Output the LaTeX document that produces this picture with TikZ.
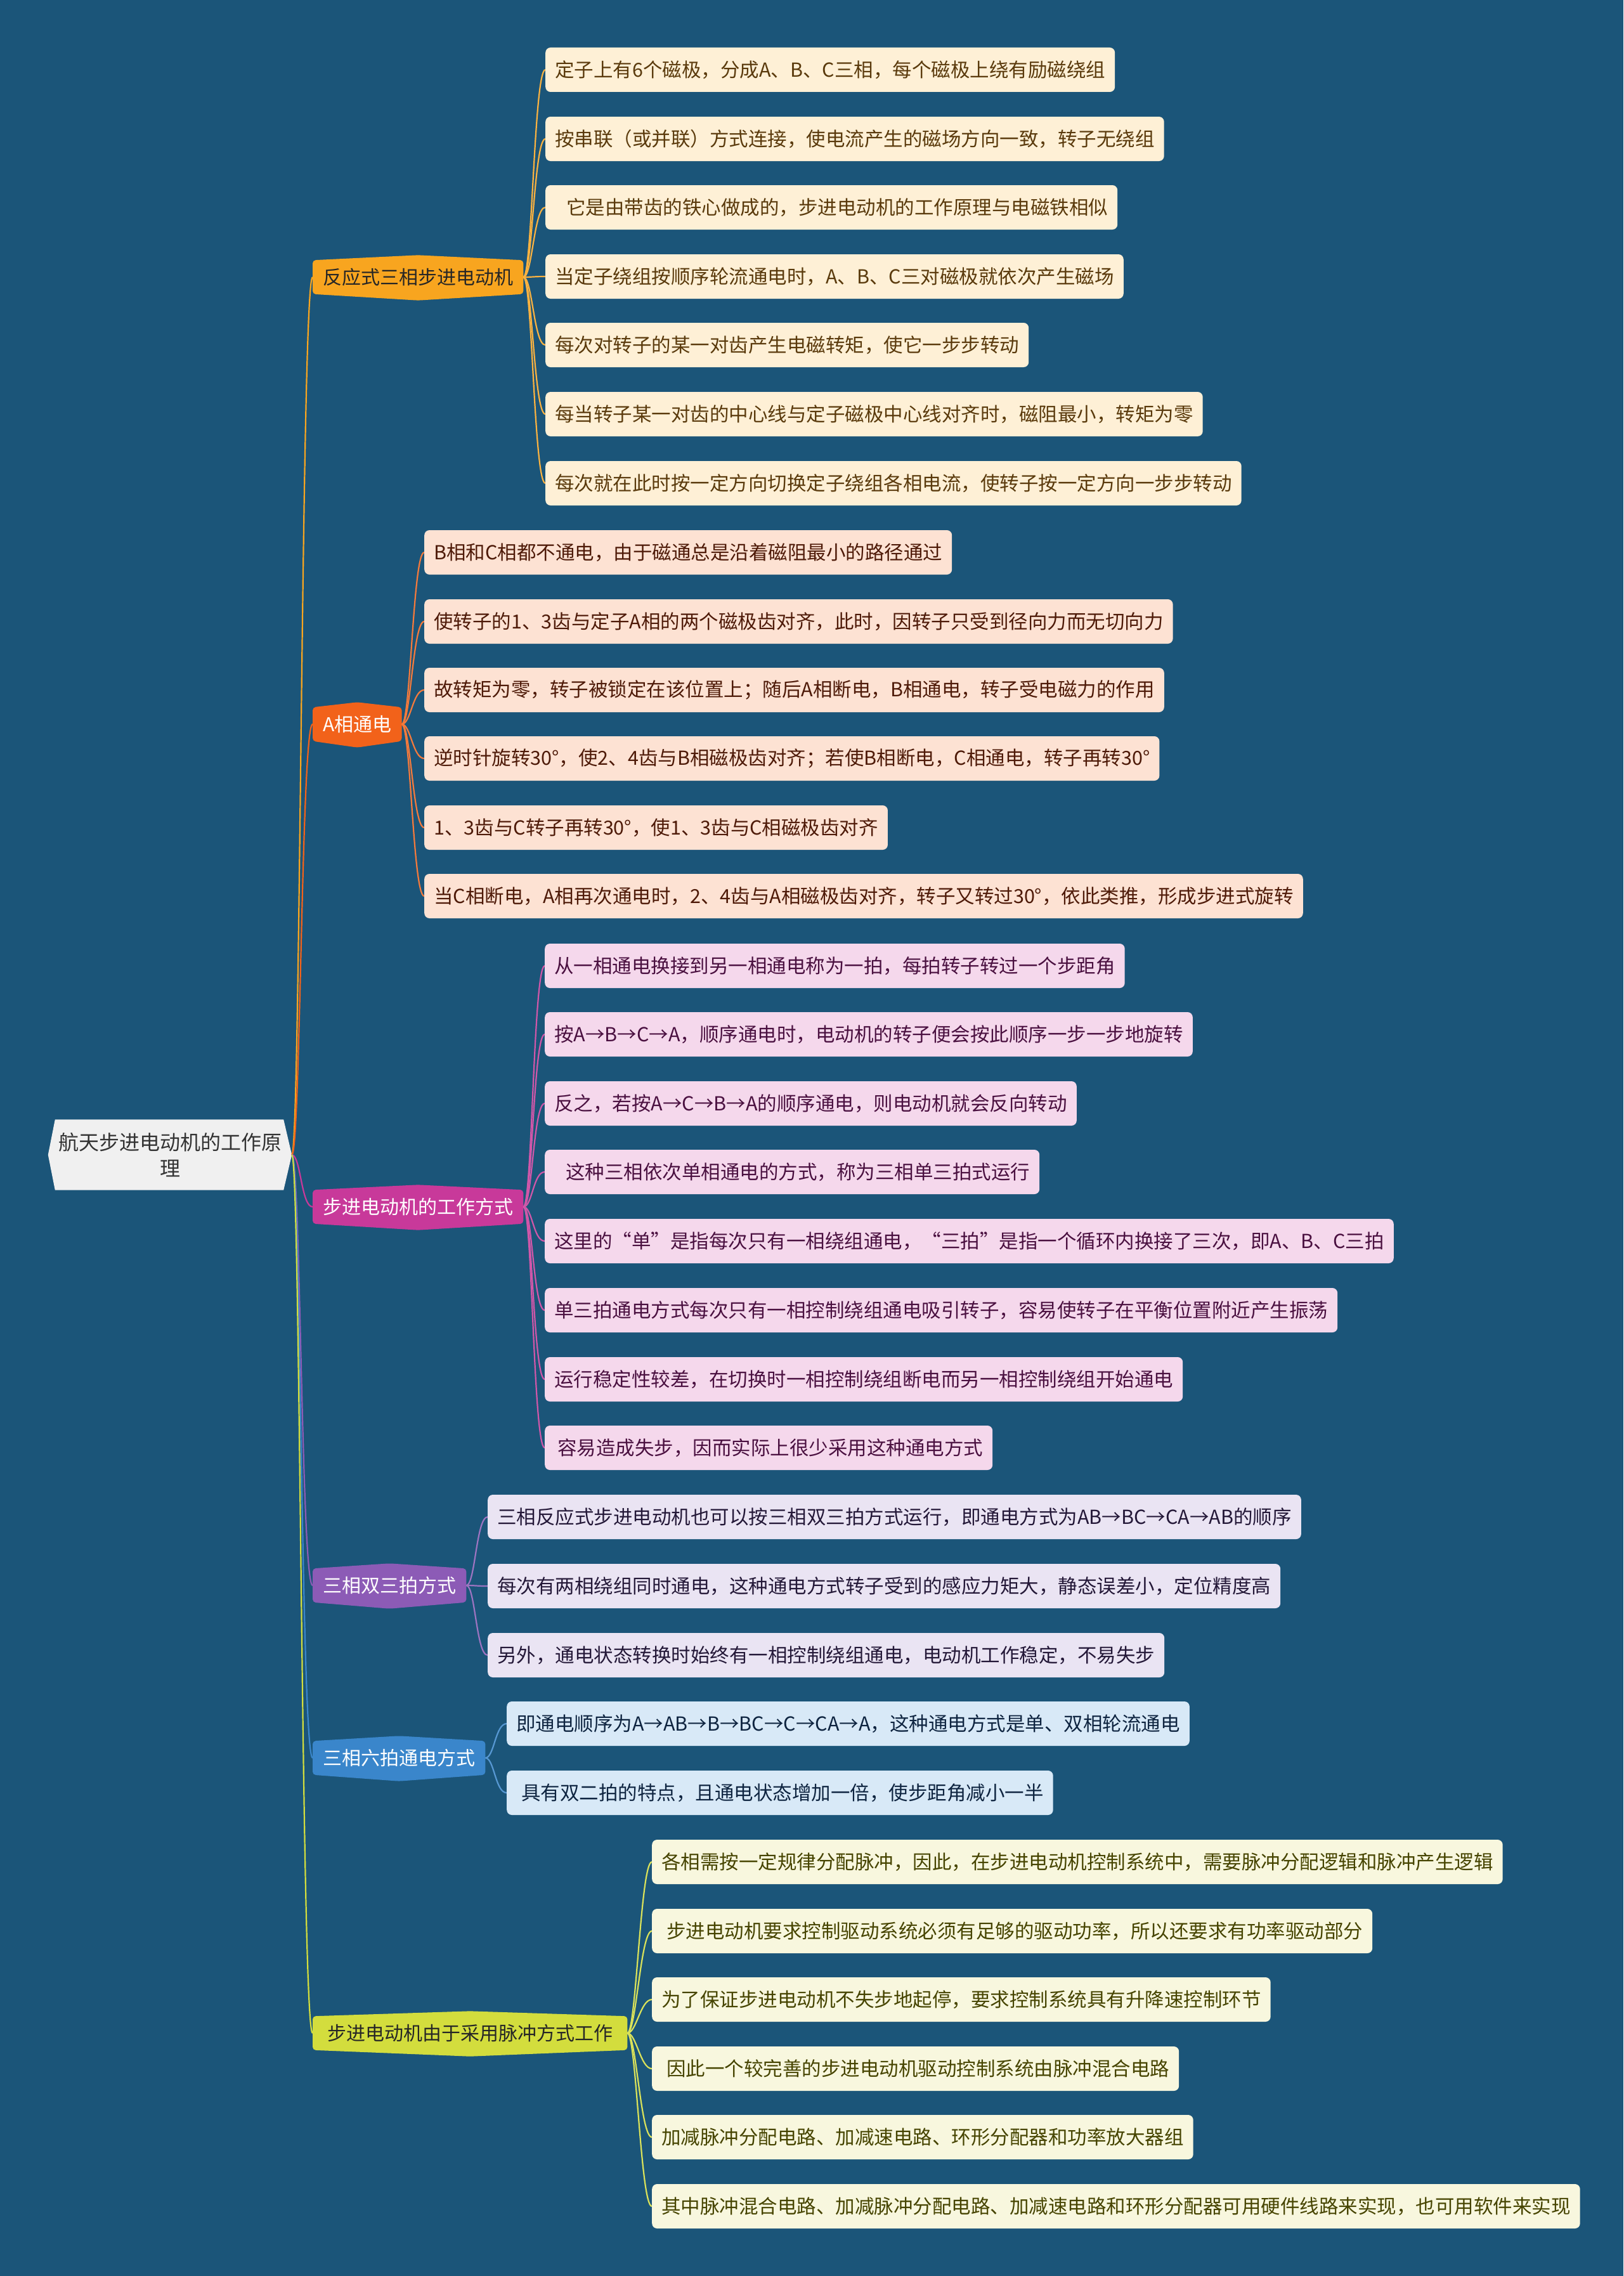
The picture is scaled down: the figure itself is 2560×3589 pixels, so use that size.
\documentclass[tikz,border=0pt]{standalone}
\usepackage{fontspec}
\setmainfont{Noto Sans CJK SC}
\usetikzlibrary{calc}
\pgfdeclarelayer{bg}
\pgfdeclarelayer{mid}
\pgfsetlayers{bg,mid,main}
\definecolor{bgc}{HTML}{1B5579}
\definecolor{cA}{HTML}{F8A51F}
\definecolor{cB}{HTML}{F2621A}
\definecolor{cC}{HTML}{C8399A}
\definecolor{cD}{HTML}{8C5BB6}
\definecolor{cE}{HTML}{3A86CB}
\definecolor{cF}{HTML}{D3DD3D}
\definecolor{lA}{HTML}{FEF0D6}
\definecolor{lB}{HTML}{FDE2D3}
\definecolor{lC}{HTML}{F5D8EC}
\definecolor{lD}{HTML}{EAE4F3}
\definecolor{lE}{HTML}{D8E9F7}
\definecolor{lF}{HTML}{F8F7DE}
\definecolor{tA}{HTML}{5A3A0C}
\definecolor{tB}{HTML}{4E1A08}
\definecolor{tC}{HTML}{4A1040}
\definecolor{tD}{HTML}{241838}
\definecolor{tE}{HTML}{0E2440}
\definecolor{tF}{HTML}{464400}
\definecolor{rootfill}{HTML}{F0F0F0}
\newcommand\leaffnt{\fontsize{30.5pt}{36pt}\selectfont}
\newcommand\brfnt{\fontsize{30pt}{36pt}\selectfont}
\newcommand\rootfnt{\fontsize{32pt}{41pt}\selectfont}
\tikzset{
  leaf/.style={rounded corners=8pt, minimum height=70pt, inner xsep=15pt, inner ysep=0pt, anchor=west, font=\leaffnt},
  brnode/.style={minimum height=53pt, inner xsep=16pt, inner ysep=0pt, anchor=west, font=\brfnt},
  link/.style={line width=2.2pt},
}
\newcommand\brshape[2]{%
  \fill[#2, rounded corners=5pt] (#1.south west) -- (#1.north west) -- ($(#1.north)+(0,-8)$) -- (#1.north east) -- (#1.south east) -- ($(#1.south)+(0,10)$) -- cycle;}
\begin{document}
\begin{tikzpicture}[x=1pt,y=-1pt]
\begin{pgfonlayer}{bg}
\fill[bgc] (0,0) rectangle (2560,3589);
\end{pgfonlayer}
\useasboundingbox (0,0) rectangle (2560,3589);

% root
\node[minimum width=384pt, minimum height=111pt, align=center, font=\rootfnt, text=black!80, inner sep=0pt] (root) at (268,1821) {航天步进电动机的工作原\\理};

% branches
\node[brnode, text=black!85] (br1) at (493,437) {反应式三相步进电动机};
\node[brnode, text=white] (br2) at (493,1142) {A相通电};
\node[brnode, text=white] (br3) at (493,1903) {步进电动机的工作方式};
\node[brnode, text=white] (br4) at (493,2500) {三相双三拍方式};
\node[brnode, text=white] (br5) at (493,2772) {三相六拍通电方式};
\node[brnode, text=black!85, inner xsep=23pt] (br6) at (493,3206) {步进电动机由于采用脉冲方式工作};

% group 1
\begin{scope}[every node/.style={leaf, fill=lA, text=tA}]
\node (L11) at (860,110) {定子上有6个磁极，分成A、B、C三相，每个磁极上绕有励磁绕组};
\node (L12) at (860,219) {按串联（或并联）方式连接，使电流产生的磁场方向一致，转子无绕组};
\node (L13) at (860,327) {\hspace{18pt}它是由带齿的铁心做成的，步进电动机的工作原理与电磁铁相似};
\node (L14) at (860,436) {当定子绕组按顺序轮流通电时，A、B、C三对磁极就依次产生磁场};
\node (L15) at (860,544) {每次对转子的某一对齿产生电磁转矩，使它一步步转动};
\node (L16) at (860,653) {每当转子某一对齿的中心线与定子磁极中心线对齐时，磁阻最小，转矩为零};
\node (L17) at (860,762) {每次就在此时按一定方向切换定子绕组各相电流，使转子按一定方向一步步转动};
\end{scope}
% group 2
\begin{scope}[every node/.style={leaf, fill=lB, text=tB}]
\node (L21) at (669,871) {B相和C相都不通电，由于磁通总是沿着磁阻最小的路径通过};
\node (L22) at (669,980) {使转子的1、3齿与定子A相的两个磁极齿对齐，此时，因转子只受到径向力而无切向力};
\node (L23) at (669,1088) {故转矩为零，转子被锁定在该位置上；随后A相断电，B相通电，转子受电磁力的作用};
\node (L24) at (669,1196) {逆时针旋转30°，使2、4齿与B相磁极齿对齐；若使B相断电，C相通电，转子再转30°};
\node (L25) at (669,1305) {1、3齿与C转子再转30°，使1、3齿与C相磁极齿对齐};
\node (L26) at (669,1413) {当C相断电，A相再次通电时，2、4齿与A相磁极齿对齐，转子又转过30°，依此类推，形成步进式旋转};
\end{scope}
% group 3
\begin{scope}[every node/.style={leaf, fill=lC, text=tC}]
\node (L31) at (859,1523) {从一相通电换接到另一相通电称为一拍，每拍转子转过一个步距角};
\node (L32) at (859,1631) {按A→B→C→A，顺序通电时，电动机的转子便会按此顺序一步一步地旋转};
\node (L33) at (859,1740) {反之，若按A→C→B→A的顺序通电，则电动机就会反向转动};
\node (L34) at (859,1848) {\hspace{18pt}这种三相依次单相通电的方式，称为三相单三拍式运行};
\node (L35) at (859,1957) {这里的“单”是指每次只有一相绕组通电，“三拍”是指一个循环内换接了三次，即A、B、C三拍};
\node (L36) at (859,2066) {单三拍通电方式每次只有一相控制绕组通电吸引转子，容易使转子在平衡位置附近产生振荡};
\node (L37) at (859,2175) {运行稳定性较差，在切换时一相控制绕组断电而另一相控制绕组开始通电};
\node (L38) at (859,2283) {\hspace{5pt}容易造成失步，因而实际上很少采用这种通电方式};
\end{scope}
% group 4
\begin{scope}[every node/.style={leaf, fill=lD, text=tD}]
\node (L41) at (769,2392) {三相反应式步进电动机也可以按三相双三拍方式运行，即通电方式为AB→BC→CA→AB的顺序};
\node (L42) at (769,2501) {每次有两相绕组同时通电，这种通电方式转子受到的感应力矩大，静态误差小，定位精度高};
\node (L43) at (769,2610) {另外，通电状态转换时始终有一相控制绕组通电，电动机工作稳定，不易失步};
\end{scope}
% group 5
\begin{scope}[every node/.style={leaf, fill=lE, text=tE}]
\node (L51) at (799,2718) {即通电顺序为A→AB→B→BC→C→CA→A，这种通电方式是单、双相轮流通电};
\node (L52) at (799,2827) {\hspace{8pt}具有双二拍的特点，且通电状态增加一倍，使步距角减小一半};
\end{scope}
% group 6
\begin{scope}[every node/.style={leaf, fill=lF, text=tF}]
\node (L61) at (1028,2936) {各相需按一定规律分配脉冲，因此，在步进电动机控制系统中，需要脉冲分配逻辑和脉冲产生逻辑};
\node (L62) at (1028,3045) {\hspace{8pt}步进电动机要求控制驱动系统必须有足够的驱动功率，所以还要求有功率驱动部分};
\node (L63) at (1028,3153) {为了保证步进电动机不失步地起停，要求控制系统具有升降速控制环节};
\node (L64) at (1028,3262) {\hspace{8pt}因此一个较完善的步进电动机驱动控制系统由脉冲混合电路};
\node (L65) at (1028,3370) {加减脉冲分配电路、加减速电路、环形分配器和功率放大器组};
\node (L66) at (1028,3479) {其中脉冲混合电路、加减脉冲分配电路、加减速电路和环形分配器可用硬件线路来实现，也可用软件来实现};
\end{scope}

\begin{pgfonlayer}{mid}
% root shape
\fill[rootfill] (root.west) -- ($(root.north west)+(11,0)$) -- ($(root.north east)+(-13,0)$) -- (root.east) -- ($(root.south east)+(-13,0)$) -- ($(root.south west)+(11,0)$) -- cycle;
% branch shapes
\brshape{br1}{cA}
\brshape{br2}{cB}
\brshape{br3}{cC}
\brshape{br4}{cD}
\brshape{br5}{cE}
\brshape{br6}{cF}
% root links
\draw[link, cA] (root.east) .. controls +(14,0) and +(-18,0) .. (br1.west);
\draw[link, cB] (root.east) .. controls +(14,0) and +(-18,0) .. (br2.west);
\draw[link, cC] (root.east) .. controls +(14,0) and +(-18,0) .. (br3.west);
\draw[link, cD] (root.east) .. controls +(14,0) and +(-18,0) .. (br4.west);
\draw[link, cE] (root.east) .. controls +(14,0) and +(-18,0) .. (br5.west);
\draw[link, cF] (root.east) .. controls +(14,0) and +(-18,0) .. (br6.west);
% leaf links
\foreach \i in {1,...,7} \draw[link, cA!85!white] (br1.east) .. controls +(14,0) and +(-18,0) .. (L1\i.west);
\foreach \i in {1,...,6} \draw[link, cB!85!white] (br2.east) .. controls +(14,0) and +(-18,0) .. (L2\i.west);
\foreach \i in {1,...,8} \draw[link, cC!85!white] (br3.east) .. controls +(14,0) and +(-18,0) .. (L3\i.west);
\foreach \i in {1,...,3} \draw[link, cD!85!white] (br4.east) .. controls +(14,0) and +(-18,0) .. (L4\i.west);
\foreach \i in {1,...,2} \draw[link, cE!85!white] (br5.east) .. controls +(14,0) and +(-18,0) .. (L5\i.west);
\foreach \i in {1,...,6} \draw[link, cF!85!white] (br6.east) .. controls +(14,0) and +(-18,0) .. (L6\i.west);
\end{pgfonlayer}
\end{tikzpicture}
\end{document}
